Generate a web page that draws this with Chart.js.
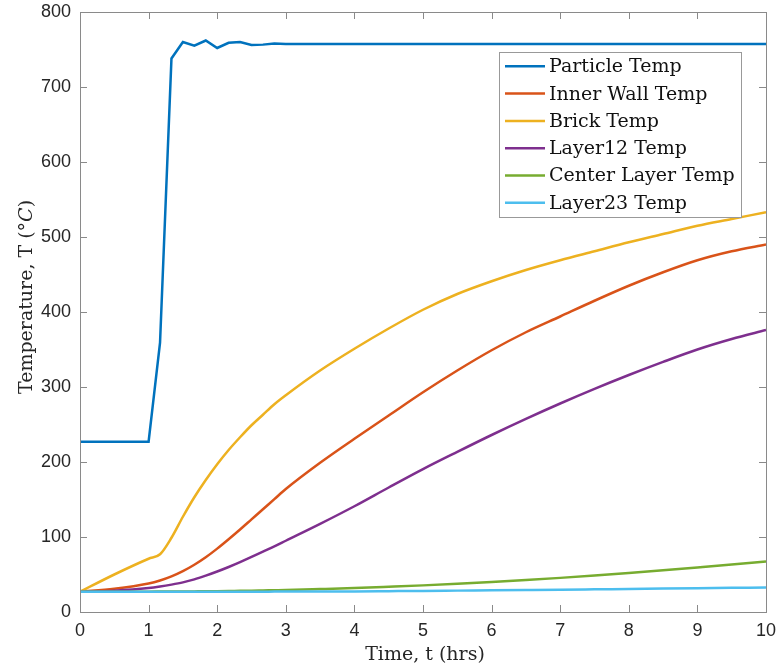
<!DOCTYPE html>
<html>
<head>
<meta charset="utf-8">
<script src="https://cdn.jsdelivr.net/npm/chart.js@4/dist/chart.umd.min.js"></script>
<style>
  html, body { margin: 0; padding: 0; background: #fff; }
  #wrap { width: 778px; height: 668px; }
</style>
</head>
<body>
<div id="wrap"><canvas id="chartTemp" width="778" height="668"></canvas></div>
<script>
// time axis (hrs) shared by every series
const timeHrs = [0, 0.5, 1, 1.1667, 1.3333, 1.5, 1.6667, 1.8333, 2, 2.1667, 2.3333, 2.5, 2.6667, 2.8333,
    3, 3.5, 4, 4.5, 5, 5.5, 6, 6.5, 7, 7.5, 8, 8.5, 9, 9.5, 10];

// temperatures (deg C)
const particleTemp = [227, 227, 227, 359, 738, 760, 755, 762, 752, 759, 760, 756, 756.5, 758,
    757.5, 757.5, 757.5, 757.5, 757.5, 757.5, 757.5, 757.5, 757.5, 757.5, 757.5, 757.5, 757.5, 757.5, 757.5];
const innerWallTemp = [27, 31, 38, 42, 47.5, 54.5, 63, 73, 84.5, 97, 110, 123.5, 137, 150.5,
    164, 199, 231, 262, 293, 322, 349, 373, 394, 415, 435, 453, 469, 481, 490];
const brickTemp = [27, 50, 71, 77, 99, 127, 153, 176, 197, 216, 233, 249, 263, 277,
    289, 322, 351, 378, 403, 424, 441, 456, 469, 481, 493, 504, 515, 524, 533];
const layer12Temp = [27, 28.5, 32, 34, 36.5, 39.5, 43.5, 48.5, 54, 60, 66.5, 73.5, 80.5, 87.5,
    95, 117.5, 141, 166, 190.5, 213.5, 236, 257.5, 278, 297.5, 316, 333.5, 350, 364, 376];
const centerLayerTemp = [27, 27, 27.1, 27.2, 27.3, 27.4, 27.5, 27.6, 27.8, 28, 28.2, 28.4, 28.7, 29,
    29.3, 30.6, 32, 33.7, 35.5, 37.6, 40, 42.6, 45.5, 48.6, 52, 55.6, 59.4, 63.3, 67.5];
const layer23Temp = [27, 27, 27, 27, 27, 27, 27, 27, 27, 27, 27.1, 27.1, 27.1, 27.2,
    27.2, 27.3, 27.5, 27.8, 28.1, 28.5, 28.9, 29.3, 29.7, 30.2, 30.7, 31.2, 31.7, 32.2, 32.7];

const seriesNames = ['Particle Temp', 'Inner Wall Temp', 'Brick Temp', 'Layer12 Temp', 'Center Layer Temp', 'Layer23 Temp'];
const seriesValues = [particleTemp, innerWallTemp, brickTemp, layer12Temp, centerLayerTemp, layer23Temp];

const xTitle = 'Time, t (hrs)';
const yTitle = ['Temperature, T (°', 'C', ')']; // C is math italic

// matlab default colour order
const colors = ['#0072BD', '#D95319', '#EDB120', '#7E2F8E', '#77AC30', '#4DBEEE'];
const axisColor = '#8a8a8a', textColor = '#262626';
const serif = '"DejaVu Serif", serif', sans = '"Liberation Sans", Arial, sans-serif';

let datasets = seriesNames.map((name, i) => ({
    label: name,
    data: timeHrs.map((t, k) => ({ x: t, y: seriesValues[i][k] })),
    borderColor: colors[i],
    backgroundColor: colors[i],
    borderWidth: 2.5,
    pointRadius: 0,
    tension: 0,
    cubicInterpolationMode: i === 0 ? 'default' : 'monotone',
    order: seriesNames.length - i, // later series on top, like matlab
}));

// box, inward ticks, axis titles and legend
const matlabAxes = {
    id: 'matlabAxes',
    afterDatasetsDraw(chart) {
        let ctx = chart.ctx, a = chart.chartArea;
        let sx = chart.scales.x, sy = chart.scales.y;
        ctx.save();
        ctx.strokeStyle = axisColor;
        ctx.lineWidth = 1;
        ctx.strokeRect(a.left + 0.5, a.top + 0.5, a.right - a.left, a.bottom - a.top);

        // ticks point inward on all four sides
        ctx.beginPath();
        sx.ticks.forEach(t => {
            let px = Math.round(sx.getPixelForValue(t.value)) + 0.5;
            ctx.moveTo(px, a.bottom); ctx.lineTo(px, a.bottom - 7);
            ctx.moveTo(px, a.top); ctx.lineTo(px, a.top + 7);
        });
        sy.ticks.forEach(t => {
            let py = Math.round(sy.getPixelForValue(t.value)) + 0.5;
            ctx.moveTo(a.left, py); ctx.lineTo(a.left + 7, py);
            ctx.moveTo(a.right, py); ctx.lineTo(a.right - 7, py);
        });
        ctx.stroke();

        // x title
        ctx.fillStyle = textColor;
        ctx.font = `19px ${serif}`;
        ctx.textAlign = 'center';
        ctx.textBaseline = 'alphabetic';
        ctx.fillText(xTitle, (a.left + a.right) / 2 + 2, 660);

        // y title, rotated, with italic C
        let fonts = [`19px ${serif}`, `italic 19px ${serif}`, `19px ${serif}`];
        let widths = yTitle.map((s, i) => { ctx.font = fonts[i]; return ctx.measureText(s).width; });
        let total = widths.reduce((p, c) => p + c, 0);
        ctx.translate(32, (a.top + a.bottom) / 2 - 15);
        ctx.rotate(-Math.PI / 2);
        ctx.textAlign = 'left';
        let cx = -total / 2;
        yTitle.forEach((s, i) => { ctx.font = fonts[i]; ctx.fillText(s, cx, 0); cx += widths[i]; });
        ctx.setTransform(1, 0, 0, 1, 0, 0);

        // legend box at top right
        let bw = 242, bh = 165, rowH = 27.3;
        let bx = a.right - 25 - bw, by = a.top + 40;
        ctx.fillStyle = '#fff';
        ctx.fillRect(bx, by, bw, bh);
        ctx.strokeStyle = '#999';
        ctx.lineWidth = 1;
        ctx.strokeRect(Math.round(bx) + 0.5, Math.round(by) + 0.5, bw, bh);
        ctx.font = `19px ${serif}`;
        ctx.textBaseline = 'middle';
        chart.data.datasets.forEach((ds, i) => {
            let cy = by + 14.3 + rowH * i;
            ctx.strokeStyle = ds.borderColor;
            ctx.lineWidth = 2.5;
            ctx.beginPath(); ctx.moveTo(bx + 6, cy); ctx.lineTo(bx + 46, cy); ctx.stroke();
            ctx.fillStyle = '#111';
            ctx.fillText(ds.label, bx + 50, cy + 1);
        });
        ctx.restore();
    }
};

new Chart(chartTemp.getContext('2d'), {
    type: 'line',
    data: { datasets },
    options: {
        responsive: false,
        animation: false,
        layout: { padding: { top: 12, right: 12, left: 0, bottom: 0 } },
        plugins: { legend: { display: false }, tooltip: { enabled: false } },
        scales: {
            x: {
                type: 'linear', min: 0, max: 10,
                ticks: { stepSize: 1, color: textColor, font: { family: sans, size: 18 }, padding: 8, maxRotation: 0 },
                grid: { display: false, drawTicks: false },
                border: { display: false },
                afterFit: s => { s.height = 56; s.paddingLeft = 0; s.paddingRight = 0; }
            },
            y: {
                min: 0, max: 800,
                ticks: { stepSize: 100, color: textColor, font: { family: sans, size: 18 }, padding: 9 },
                grid: { display: false, drawTicks: false },
                border: { display: false },
                afterFit: s => { s.width = 80; s.paddingTop = 0; s.paddingBottom = 0; }
            }
        }
    },
    plugins: [matlabAxes]
});
</script>
</body>
</html>
